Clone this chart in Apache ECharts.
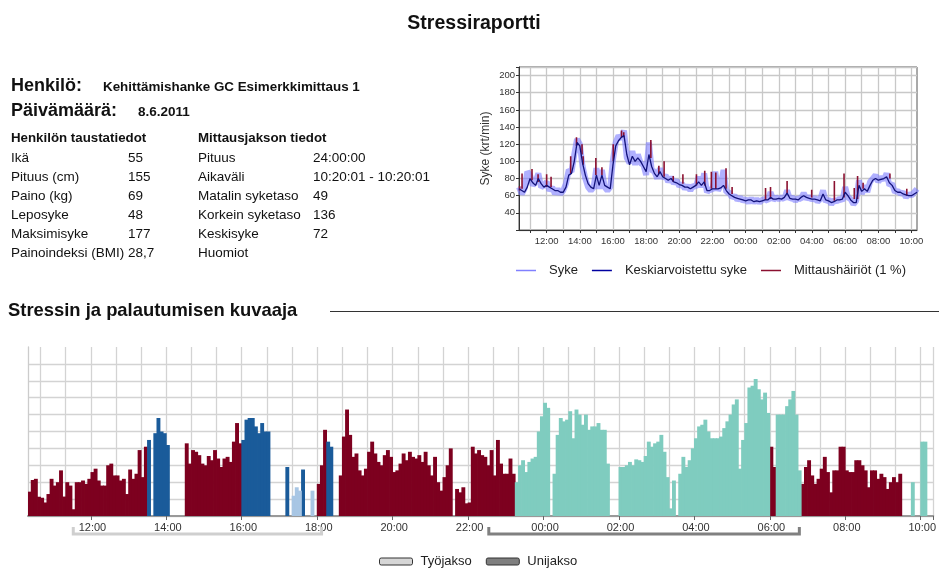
<!DOCTYPE html>
<html><head><meta charset="utf-8">
<script src="https://cdn.jsdelivr.net/npm/echarts@6/dist/echarts.min.js"></script>
<style>html,body{margin:0;padding:0;background:#fff}#c{width:939px;height:568px}</style>
</head><body><div id="c"></div>
<script>
// ---------- text data ----------
const personName = 'Kehittämishanke GC Esimerkkimittaus 1';
const reportDate = '8.6.2011';
const backgroundLabels = ['Ikä', 'Pituus (cm)', 'Paino (kg)', 'Leposyke', 'Maksimisyke', 'Painoindeksi (BMI)'];
const backgroundValues = ['55', '155', '69', '48', '177', '28,7'];
const periodLabels = ['Pituus', 'Aikaväli', 'Matalin syketaso', 'Korkein syketaso', 'Keskisyke', 'Huomiot'];
const periodValues = ['24:00:00', '10:20:01 - 10:20:01', '49', '136', '72', ''];

// ---------- axis tick labels ----------
const hrTickLabels = ['12:00','14:00','16:00','18:00','20:00','22:00','00:00','02:00','04:00','06:00','08:00','10:00'];
const stTickLabels = ['12:00','14:00','16:00','18:00','20:00','22:00','00:00','02:00','04:00','06:00','08:00','10:00'];

// ---------- heart-rate data (10-min points from 10:20 to 10:20) ----------
const hrAvg = [
 68,66,64,70,80,75,72,80,74,70,
 72,70,68,66,66,64,64,70,84,86,
 100,122,118,98,84,74,70,68,84,72,
 84,72,70,68,96,118,124,128,130,108,
 96,106,100,104,100,94,88,108,94,86,
 82,88,82,80,78,80,76,75,73,72,
 70,70,68,70,72,76,72,76,66,66,
 68,68,68,69,72,66,62,60,58,57,
 56,55,54,55,55,53,54,53,54,55,
 55,58,56,56,57,56,58,63,57,56,
 56,55,58,60,58,57,56,56,55,54,
 62,55,54,52,53,55,55,56,64,60,
 55,52,52,72,65,68,65,72,78,80,
 78,79,80,82,75,72,66,64,64,62,
 61,60,60,62,64];
const hrRaw = [
 70,62,68,88,84,72,76,86,70,72,
 76,66,70,62,68,62,66,74,90,88,
 108,126,120,94,80,70,66,70,92,68,
 90,70,66,70,102,122,130,126,136,104,
 98,112,96,108,98,96,84,122,90,88,
 80,92,80,84,76,82,74,78,71,74,
 68,72,66,72,70,82,70,86,64,68,
 66,88,66,72,90,64,64,58,60,55,
 58,54,56,52,57,52,56,52,55,56,
 54,64,55,58,56,58,56,66,56,58,
 54,57,56,63,56,59,55,58,53,56,
 66,53,56,50,55,53,57,54,70,58,
 56,50,54,78,62,72,64,76,80,84,
 76,82,78,86,72,74,64,66,62,64,
 58,62,60,64,68];
// measurement artefacts: minutes since 10:20, low and high value
const artTimes = [2,11,47,69,100,116,187,208,228,232,278,300,341,371,379,477,506,525,558,593,642,672,696,712,749,771,892,910,970,1059,1141,1176,1213,1225,1245,1342,1403];
const artLow   = [66,68,78,76,70,70,86,118,108,96,84,84,100,128,128,104,85,82,76,74,72,72,68,68,68,62,55,56,62,58,54,58,56,56,68,80,60];
const artHigh  = [71,86,91,85,85,82,106,128,120,106,104,93,120,136,134,125,95,100,83,85,85,89,88,87,92,70,69,70,77,67,77,86,69,83,75,86,68];

// ---------- stress / recovery data (5-min slots from 10:20) ----------
const stressValues = [
 1.44,2.13,2.2,1.14,1.08,0.8,1.3,2.2,1.8,2.0,2.7,1.15,
 2.0,1.8,0.4,2.0,2.0,2.1,1.9,2.2,2.6,2.8,2.1,1.8,
 1.8,3.0,3.1,2.4,2.4,2.1,2.2,1.3,2.75,2.2,2.5,3.9,
 2.3,4.1,4.5,null,4.9,5.8,5.0,4.9,4.2,null,null,null,
 null,null,4.3,3.1,3.9,3.8,3.6,3.1,3.0,3.55,3.3,3.9,
 3.4,2.9,3.4,3.5,3.2,4.4,5.5,4.3,4.5,5.7,5.8,5.8,
 5.3,4.9,5.5,5.0,5.0,null,null,null,null,null,2.9,null,
 1.2,1.7,1.5,2.75,null,null,1.5,null,1.9,3.0,5.1,4.4,
 4.1,null,null,2.4,4.7,6.3,4.8,3.5,3.7,2.7,2.4,2.8,
 3.8,4.4,3.7,3.2,3.0,3.6,3.9,3.5,2.6,2.7,3.1,3.7,
 3.3,3.8,3.5,3.4,3.6,3.2,3.8,3.0,2.4,3.5,2.0,1.5,
 2.3,3.0,4.0,null,1.6,1.4,1.7,0.75,0.8,4.1,3.7,3.9,
 3.6,3.5,3.0,3.9,2.4,4.5,3.1,2.5,2.5,3.4,2.5,2.0,
 3.0,3.3,2.6,3.2,3.4,3.5,5.0,5.9,6.7,6.4,null,2.5,
 4.8,5.8,5.6,5.7,6.2,4.6,6.3,6.0,5.4,6.0,5.1,5.3,
 5.3,5.5,5.1,5.1,3.1,null,null,null,2.9,2.9,3.0,3.2,
 3.0,3.35,3.3,3.2,3.55,4.4,4.1,4.3,4.4,4.8,3.8,2.3,
 0.45,2.1,null,2.5,3.5,2.9,3.3,4.0,4.6,5.3,5.4,5.7,
 5.0,4.6,4.6,4.6,4.7,5.2,5.6,6.0,6.6,6.9,2.8,4.5,
 5.5,7.6,7.7,8.1,7.5,6.9,7.3,6.1,4.1,2.9,6.0,6.0,
 6.0,6.5,6.9,7.4,6.0,2.7,1.9,2.9,3.3,2.4,1.9,2.2,
 2.8,3.5,2.6,1.4,2.7,2.7,4.1,4.1,2.7,2.6,2.6,3.3,
 3.3,3.0,2.7,1.7,2.7,2.7,2.2,2.5,2.3,1.6,2.0,2.3,
 2.0,2.5,null,null,null,2.0,null,null,4.4,4.4,null,null];
// S = stress, A = activity, L = light activity, R = recovery, x = none
const stressKinds = (
 'SSSSSSSSSSSS' + 'SSSSSSSSSSSS' + 'SSSSSSSSSSSS' + 'SSAxAAAAAxxx' +
 'xxSSSSSSSSSS' + 'SSSSSSSSAAAA' + 'AAAAAxxxxxAx' + 'LLLAxxLxSSSA' +
 'AxxSSSSSSSSS' + 'SSSSSSSSSSSS' + 'SSSSSSSSSSSS' + 'SSSxSSSSSSSS' +
 'SSSSSSSSSSSR' + 'RRRRRRRRRRxR' + 'RRRRRRRRRRRR' + 'RRRRRxxxRRRR' +
 'RRRRRRRRRRRR' + 'RRxRRRRRRRRR' + 'RRRRRRRRRRRR' + 'RRRRRRRRSSRR' +
 'RRRRRRSSSSSS' + 'SSSSSSSSSSSS' + 'SSSSSSSSSSSS' + 'SSxxxRxxRRxx').split('');
// periods (minutes since 10:20)
const workPeriod = [72, 467];
const sleepPeriod = [733, 1227];

// ---------- build ----------
const START = 620;
function hhmm(m) { m = ((m % 1440) + 1440) % 1440; const h = Math.floor(m / 60), mi = m % 60; return (h < 10 ? '0' : '') + h + ':' + (mi < 10 ? '0' : '') + mi; }
function toMin(s) { const p = s.split(':'); return (+p[0]) * 60 + (+p[1]); }
const hrCats = hrAvg.map((_, i) => hhmm(START + i * 10));
const stCats = stressValues.map((_, i) => hhmm(START + i * 5));
const artData = [];
artTimes.forEach((t, i) => { artData.push([t, artLow[i]], [t, artHigh[i]], [t, '-']); });
function kindData(k) { return stressValues.map((v, i) => (stressKinds[i] === k && v != null) ? v : '-'); }

const FONT = "'Liberation Sans', Arial, sans-serif";
const TXT = '#111';
const graphics = [];
function txt(x, y, s, size, bold, align) {
  graphics.push({ type: 'text', x: x, y: y, silent: true, style: { text: s, fontSize: size, fontWeight: bold ? 'bold' : 'normal', fontFamily: FONT, fill: TXT, align: align || 'left', verticalAlign: 'middle' } });
}
txt(474, 24, 'Stressiraportti', 19.5, true, 'center');
txt(11, 86, 'Henkilö:', 18, true);
txt(103, 87, personName, 13.4, true);
txt(11, 111.5, 'Päivämäärä:', 18, true);
txt(138, 112, reportDate, 13.5, true);
txt(11, 138.5, 'Henkilön taustatiedot', 13.3, true);
txt(198, 138.5, 'Mittausjakson tiedot', 13.3, true);
backgroundLabels.forEach((s, i) => { const y = 158.3 + i * 18.9; txt(11, y, s, 13.5); txt(128, y, backgroundValues[i], 13.5); txt(198, y, periodLabels[i], 13.5); txt(313, y, periodValues[i], 13.5); });
txt(8, 310.5, 'Stressin ja palautumisen kuvaaja', 18.4, true);
graphics.push({ type: 'line', silent: true, shape: { x1: 330, y1: 311.5, x2: 939, y2: 311.5 }, style: { stroke: '#333', lineWidth: 1.2 } });

function bracket(color) {
  return function (params, api) {
    const a = api.coord([api.value(0), 0]);
    const b = api.coord([api.value(1), 0]);
    const y = a[1];
    return { type: 'polyline', shape: { points: [[a[0], y + 11], [a[0], y + 18], [b[0], y + 18], [b[0], y + 11]] }, style: { stroke: color, lineWidth: 3, fill: null } };
  };
}
function barSeries(k, color) {
  return { type: 'bar', xAxisIndex: 1, yAxisIndex: 1, data: kindData(k), barGap: '-100%', barWidth: 3.9, itemStyle: { color: color }, silent: true, z: 3 };
}

const option = {
  animation: false,
  textStyle: { fontFamily: FONT },
  graphic: graphics,
  grid: [
    { left: 519, top: 67, width: 398, height: 163, show: true, borderColor: '#555', borderWidth: 1 },
    { left: 28, top: 347, width: 912, height: 169, show: false }
  ],
  legend: [
    { data: ['Syke', 'Keskiarvoistettu syke', 'Mittaushäiriöt (1 %)'], left: 511, top: 259, icon: 'rect', itemWidth: 20, itemHeight: 1.5, itemGap: 14,
      textStyle: { fontSize: 13, color: '#222', padding: [0, 0, 0, 8] }, selectedMode: false },
    { data: [{ name: 'Työjakso', itemStyle: { color: '#d6d6d6', borderColor: '#333', borderWidth: 1 } }, { name: 'Unijakso', itemStyle: { color: '#7f7f7f', borderColor: '#333', borderWidth: 1 } }],
      left: 374, top: 550, icon: 'roundRect', itemWidth: 33, itemHeight: 7, itemGap: 14,
      textStyle: { fontSize: 13, color: '#222', padding: [0, 0, 0, 3] }, selectedMode: false }
  ],
  xAxis: [
    { gridIndex: 0, type: 'category', data: hrCats, boundaryGap: false,
      axisLine: { lineStyle: { color: '#333' } },
      axisTick: { show: true, interval: (i, v) => toMin(v) % 60 === 0, length: 3, lineStyle: { color: '#333' } },
      axisLabel: { interval: (i, v) => hrTickLabels.indexOf(v) >= 0, fontSize: 9.5, color: '#333', margin: 6 },
      splitLine: { show: true, interval: (i, v) => toMin(v) % 60 === 0, lineStyle: { color: '#c8c8c8', width: 1.3 } } },
    { gridIndex: 1, type: 'category', data: stCats, boundaryGap: true,
      axisLine: { lineStyle: { color: '#999', width: 2 } },
      axisTick: { show: true, interval: (i, v) => stTickLabels.indexOf(v) >= 0, length: 4, lineStyle: { color: '#666' } },
      axisLabel: { interval: (i, v) => stTickLabels.indexOf(v) >= 0, fontSize: 11, color: '#333', margin: 6 },
      splitLine: { show: true, interval: (i, v) => toMin(v) % 40 === 0, lineStyle: { color: '#d3d3d3', width: 1.3 } } },
    { gridIndex: 0, type: 'value', min: 0, max: 1440, show: false },
    { gridIndex: 1, type: 'value', min: 0, max: 1440, show: false }
  ],
  yAxis: [
    { gridIndex: 0, type: 'value', min: 20, max: 210, interval: 20,
      name: 'Syke (krt/min)', nameLocation: 'middle', nameGap: 27, nameTextStyle: { fontSize: 12, color: '#333' },
      axisLine: { show: true, lineStyle: { color: '#333' } },
      axisTick: { show: true, length: 3, lineStyle: { color: '#333' } },
      axisLabel: { fontSize: 9.5, color: '#333', margin: 4, formatter: v => (v >= 40 && v <= 200) ? String(v) : '' },
      splitLine: { lineStyle: { color: '#c8c8c8', width: 1.3 } } },
    { gridIndex: 1, type: 'value', min: 0, max: 10, interval: 1,
      axisLabel: { show: false }, axisTick: { show: false },
      axisLine: { show: true, lineStyle: { color: '#ccc', width: 1.3 } },
      splitLine: { show: true, showMaxLine: false, lineStyle: { color: '#d3d3d3', width: 1.3 } } }
  ],
  series: [
    { name: 'Syke', type: 'line', xAxisIndex: 0, yAxisIndex: 0, data: hrRaw, showSymbol: false, symbol: 'none', color: '#8080ff',
      lineStyle: { color: '#7b7bff', width: 6, opacity: 0.6 }, z: 2, silent: true },
    { name: 'Mittaushäiriöt (1 %)', type: 'line', xAxisIndex: 2, yAxisIndex: 0, data: artData, showSymbol: false, symbol: 'none', color: '#8b1030',
      connectNulls: false, lineStyle: { color: '#8b1030', width: 1.6 }, z: 3, silent: true },
    { name: 'Keskiarvoistettu syke', type: 'line', xAxisIndex: 0, yAxisIndex: 0, data: hrAvg, showSymbol: false, symbol: 'none', color: '#0000a0',
      lineStyle: { color: '#12127a', width: 1.3 }, z: 4, silent: true },
    barSeries('S', '#7d001f'),
    barSeries('A', '#1a5b9a'),
    barSeries('L', '#a8c6e4'),
    barSeries('R', '#7fccbf'),
    { name: 'Työjakso', type: 'custom', xAxisIndex: 3, yAxisIndex: 1, data: [workPeriod], encode: { x: [0, 1] },
      renderItem: bracket('#cfcfcf'), itemStyle: { color: '#d6d6d6' }, clip: false, silent: true },
    { name: 'Unijakso', type: 'custom', xAxisIndex: 3, yAxisIndex: 1, data: [sleepPeriod], encode: { x: [0, 1] },
      renderItem: bracket('#808080'), itemStyle: { color: '#7f7f7f' }, clip: false, silent: true }
  ]
};
const chart = echarts.init(document.getElementById('c'));
chart.setOption(option);
</script>
</body></html>
